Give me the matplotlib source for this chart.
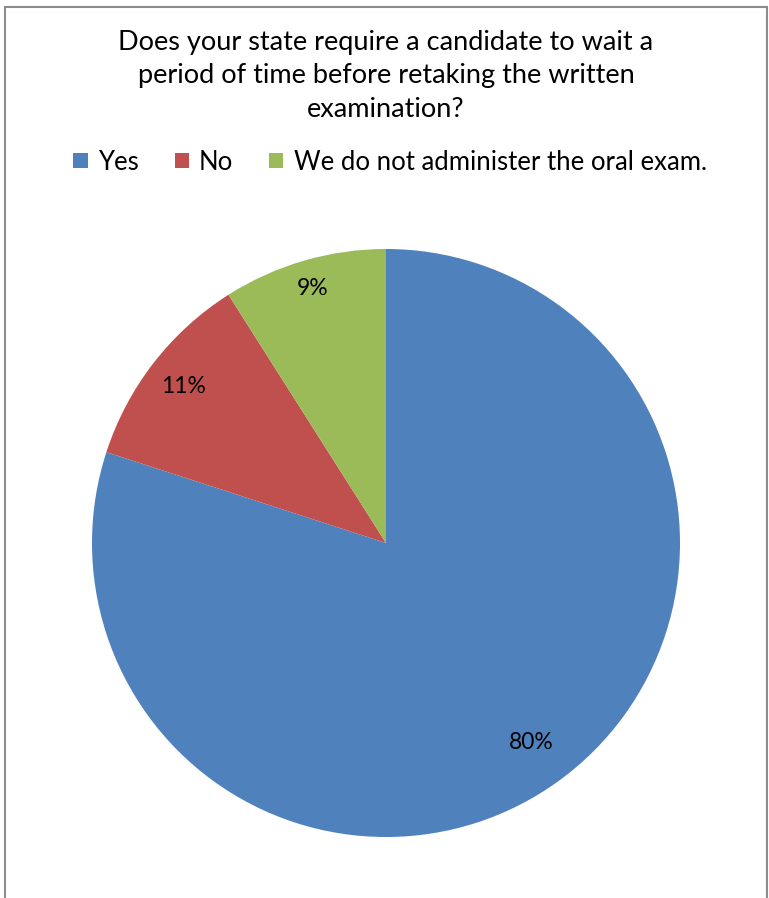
import numpy as np
import matplotlib
matplotlib.use("Agg")
import matplotlib.pyplot as plt
from matplotlib.patches import Rectangle

title = ("Does your state require a candidate to wait a\n"
         "period of time before retaking the written\n"
         "examination?")
labels = ["Yes", "No", "We do not administer the oral exam."]
values = [80, 11, 9]
colors = ["#4F81BD", "#C0504D", "#9BBB59"]
label_dist = [0.84, 0.87, 0.90]   # how far out each % label sits

plt.rcParams["font.family"] = ["Lato", "DejaVu Sans"]

W, H = 769, 898
fig = plt.figure(figsize=(W / 100, H / 100), dpi=100)

# chart frame
fig.patches.append(Rectangle((5 / W, -0.01), 762 / W, 1 - 7 / H + 0.01,
                             transform=fig.transFigure, fill=False,
                             edgecolor="#8c8c8c", lw=1.5))

# pie: centre (386, 543), radius 294 px
ax = fig.add_axes([92 / W, (H - 837) / H, 588 / W, 588 / H])
wedges, _, autotexts = ax.pie(values, colors=colors, startangle=90,
                              counterclock=False, autopct="%d%%",
                              pctdistance=0.86,
                              wedgeprops=dict(linewidth=0),
                              textprops=dict(fontsize=16.5, color="black"))
for w, t, d in zip(wedges, autotexts, label_dist):
    a = np.deg2rad((w.theta1 + w.theta2) / 2)
    t.set_position((d * np.cos(a), d * np.sin(a)))
ax.set_aspect("equal")
ax.set_xlim(-1, 1); ax.set_ylim(-1, 1)

fig.text(386 / W, 1 - 76 / H, title, ha="center", va="center",
         fontsize=19.5, linespacing=1.42)

leg = fig.legend(wedges, labels, loc="center", bbox_to_anchor=(390 / W, 1 - 162 / H),
                 ncol=3, frameon=False, fontsize=18.5, handlelength=0.55,
                 handleheight=0.55, handletextpad=0.4, columnspacing=1.4)

fig.savefig("out.png", dpi=100)
